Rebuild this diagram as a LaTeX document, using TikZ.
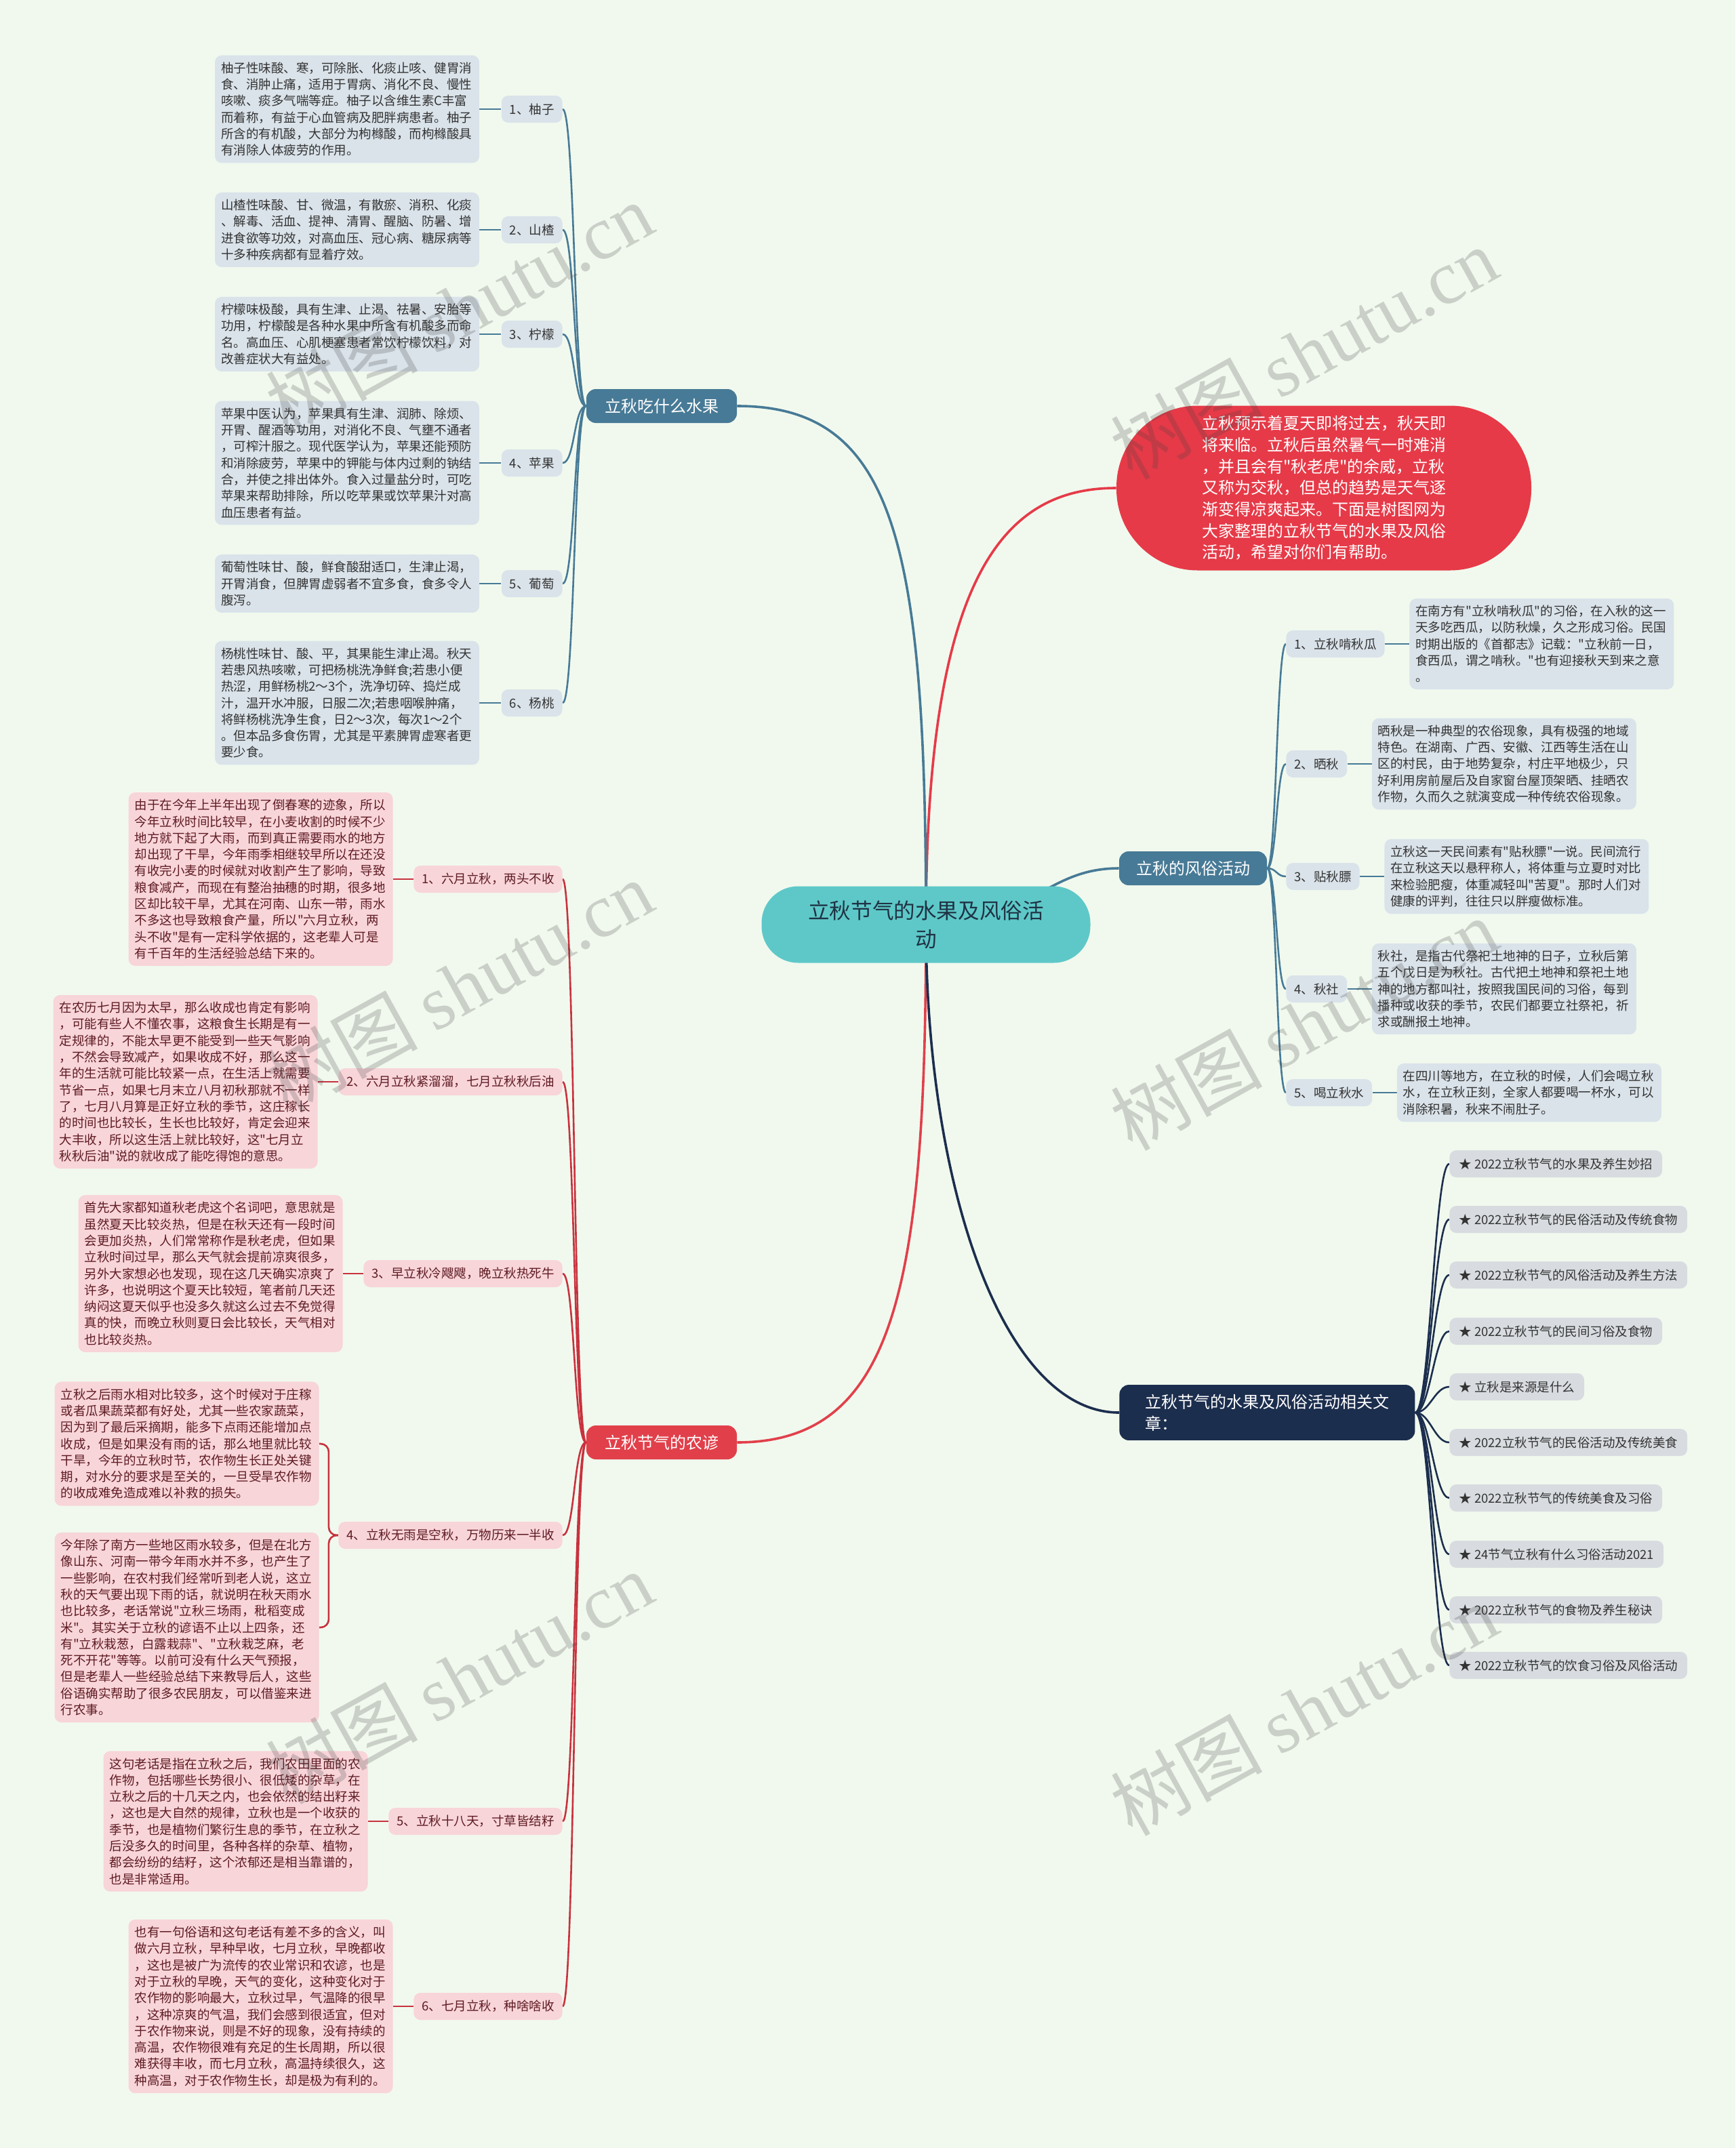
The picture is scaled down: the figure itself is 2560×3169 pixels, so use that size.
\documentclass[tikz,border=0pt]{standalone}
\usepackage{fontspec}
\setmainfont{Noto Sans CJK SC}[Ligatures=TeXOff]
\newfontfamily\wmserif{Liberation Serif}
\usetikzlibrary{calc}
\definecolor{bgc}{HTML}{F1F9EE}
\definecolor{bluebr}{HTML}{477A96}
\definecolor{bluelt}{HTML}{DAE3EA}
\definecolor{redbr}{HTML}{E1404B}
\definecolor{introred}{HTML}{E63A48}
\definecolor{pinklt}{HTML}{F8D5D9}
\definecolor{pinkln}{HTML}{C8323E}
\definecolor{pinktxt}{HTML}{5E1B23}
\definecolor{navy}{HTML}{1C2E4E}
\definecolor{artlt}{HTML}{D8DCE0}
\definecolor{rootc}{HTML}{5EC8C8}
\definecolor{txtg}{HTML}{333333}
\definecolor{roottxt}{HTML}{1F3344}
\newcommand{\smallf}{\fontsize{9.25pt}{12.15pt}\selectfont}
\newcommand{\bigf}{\fontsize{12pt}{15.85pt}\selectfont}
\newcommand{\rootf}{\fontsize{15.8pt}{21pt}\selectfont}
\newcommand{\wmf}{\fontsize{56pt}{60pt}\selectfont}
\pgfdeclarelayer{back}\pgfdeclarelayer{lines}\pgfdeclarelayer{front}
\pgfsetlayers{back,lines,main,front}
\tikzset{
 txtbox/.style={rounded corners=5pt, inner xsep=4.5pt, inner ysep=5pt, text width=186pt, align=left, font=\smallf},
 lab/.style={rounded corners=5pt, inner xsep=6pt, inner ysep=0pt, minimum height=20pt, font=\smallf},
 bbox/.style={txtbox, fill=bluelt, text=txtg},
 blab/.style={lab, fill=bluelt, text=txtg},
 pbox/.style={txtbox, fill=pinklt, text=pinktxt},
 plab/.style={lab, fill=pinklt, text=pinktxt},
 alab/.style={lab, fill=artlt, text=txtg, inner xsep=7pt},
 branch/.style={rounded corners=7pt, font=\bigf, text=white, minimum height=25pt, inner xsep=12pt},
 bline/.style={draw=bluebr, line width=1.3pt},
 pline/.style={draw=pinkln, line width=1.3pt},
 nline/.style={draw=navy, line width=1.3pt},
 mainline/.style={line width=1.8pt},
 wm/.style={text=black!75, opacity=0.22, rotate=29, font=\wmf}
}
\begin{document}
\begin{tikzpicture}[x=0.5pt, y=-0.5pt]
\begin{pgfonlayer}{back}
\fill[bgc] (0,0) rectangle (2560,3169);
\end{pgfonlayer}
\useasboundingbox (0,0) rectangle (2560,3169);

% root and intro
\node[fill=rootc, text=roottxt, rounded corners=27pt, minimum width=242.5pt, minimum height=56.5pt, align=center, font=\rootf] (root) at (1366,1364) {立秋节气的水果及风俗活\\动};
\node[fill=introred, text=white, rounded corners=60pt, minimum width=306pt, minimum height=121.5pt, align=left, font=\bigf] (intro) at (1953,720) {立秋预示着夏天即将过去，秋天即\\将来临。立秋后虽然暑气一时难消\\，并且会有"秋老虎"的余威，立秋\\又称为交秋，但总的趋势是天气逐\\渐变得凉爽起来。下面是树图网为\\大家整理的立秋节气的水果及风俗\\活动，希望对你们有帮助。};

% branches
\node[branch, fill=bluebr, minimum width=111pt] (fruitB) at (976,599) {立秋吃什么水果};
\node[branch, fill=redbr, minimum width=111pt] (farmB) at (976,2128) {立秋节气的农谚};
\node[branch, fill=bluebr, minimum width=109pt] (custB) at (1760,1281) {立秋的风俗活动};
\node[branch, fill=navy, anchor=west, align=left, inner xsep=19pt, inner ysep=7pt] (artB) at (1651,2084) {立秋节气的水果及风俗活动相关文\\章：};

% fruits
\node[blab, anchor=east] (f1) at (830,161) {1、柚子};
\node[blab, anchor=east] (f2) at (830,339) {2、山楂};
\node[blab, anchor=east] (f3) at (830,493) {3、柠檬};
\node[blab, anchor=east] (f4) at (830,683) {4、苹果};
\node[blab, anchor=east] (f5) at (830,861) {5、葡萄};
\node[blab, anchor=east] (f6) at (830,1037) {6、杨桃};
\node[bbox, anchor=east] (ft1) at ([xshift=-16pt]f1.west) {柚子性味酸、寒，可除胀、化痰止咳、健胃消\\食、消肿止痛，适用于胃病、消化不良、慢性\\咳嗽、痰多气喘等症。柚子以含维生素C丰富\\而着称，有益于心血管病及肥胖病患者。柚子\\所含的有机酸，大部分为枸橼酸，而枸橼酸具\\有消除人体疲劳的作用。};
\node[bbox, anchor=east] (ft2) at ([xshift=-16pt]f2.west) {山楂性味酸、甘、微温，有散瘀、消积、化痰\\、解毒、活血、提神、清胃、醒脑、防暑、增\\进食欲等功效，对高血压、冠心病、糖尿病等\\十多种疾病都有显着疗效。};
\node[bbox, anchor=east] (ft3) at ([xshift=-16pt]f3.west) {柠檬味极酸，具有生津、止渴、祛暑、安胎等\\功用，柠檬酸是各种水果中所含有机酸多而命\\名。高血压、心肌梗塞患者常饮柠檬饮料，对\\改善症状大有益处。};
\node[bbox, anchor=east] (ft4) at ([xshift=-16pt]f4.west) {苹果中医认为，苹果具有生津、润肺、除烦、\\开胃、醒酒等功用，对消化不良、气壅不通者\\，可榨汁服之。现代医学认为，苹果还能预防\\和消除疲劳，苹果中的钾能与体内过剩的钠结\\合，并使之排出体外。食入过量盐分时，可吃\\苹果来帮助排除，所以吃苹果或饮苹果汁对高\\血压患者有益。};
\node[bbox, anchor=east] (ft5) at ([xshift=-16pt]f5.west) {葡萄性味甘、酸，鲜食酸甜适口，生津止渴，\\开胃消食，但脾胃虚弱者不宜多食，食多令人\\腹泻。};
\node[bbox, anchor=east] (ft6) at ([xshift=-16pt]f6.west) {杨桃性味甘、酸、平，其果能生津止渴。秋天\\若患风热咳嗽，可把杨桃洗净鲜食;若患小便\\热涩，用鲜杨桃2～3个，洗净切碎、捣烂成\\汁，温开水冲服，日服二次;若患咽喉肿痛，\\将鲜杨桃洗净生食，日2～3次，每次1～2个\\。但本品多食伤胃，尤其是平素脾胃虚寒者更\\要少食。};

% farm proverbs
\node[plab, anchor=east] (p1) at (830,1297) {1、六月立秋，两头不收};
\node[plab, anchor=east] (p2) at (830,1596) {2、六月立秋紧溜溜，七月立秋秋后油};
\node[plab, anchor=east] (p3) at (830,1879) {3、早立秋冷飕飕，晚立秋热死牛};
\node[plab, anchor=east] (p4) at (830,2265) {4、立秋无雨是空秋，万物历来一半收};
\node[plab, anchor=east] (p5) at (830,2687) {5、立秋十八天，寸草皆结籽};
\node[plab, anchor=east] (p6) at (830,2960) {6、七月立秋，种啥啥收};
\node[pbox, anchor=east] (pt1) at ([xshift=-15pt]p1.west) {由于在今年上半年出现了倒春寒的迹象，所以\\今年立秋时间比较早，在小麦收割的时候不少\\地方就下起了大雨，而到真正需要雨水的地方\\却出现了干旱，今年雨季相继较早所以在还没\\有收完小麦的时候就对收割产生了影响，导致\\粮食减产，而现在有整治抽穗的时期，很多地\\区却比较干旱，尤其在河南、山东一带，雨水\\不多这也导致粮食产量，所以"六月立秋，两\\头不收"是有一定科学依据的，这老辈人可是\\有千百年的生活经验总结下来的。};
\node[pbox, anchor=east] (pt2) at ([xshift=-15pt]p2.west) {在农历七月因为太早，那么收成也肯定有影响\\，可能有些人不懂农事，这粮食生长期是有一\\定规律的，不能太早更不能受到一些天气影响\\，不然会导致减产，如果收成不好，那么这一\\年的生活就可能比较紧一点，在生活上就需要\\节省一点，如果七月末立八月初秋那就不一样\\了，七月八月算是正好立秋的季节，这庄稼长\\的时间也比较长，生长也比较好，肯定会迎来\\大丰收，所以这生活上就比较好，这"七月立\\秋秋后油"说的就收成了能吃得饱的意思。};
\node[pbox, anchor=east] (pt3) at ([xshift=-15pt]p3.west) {首先大家都知道秋老虎这个名词吧，意思就是\\虽然夏天比较炎热，但是在秋天还有一段时间\\会更加炎热，人们常常称作是秋老虎，但如果\\立秋时间过早，那么天气就会提前凉爽很多，\\另外大家想必也发现，现在这几天确实凉爽了\\许多，也说明这个夏天比较短，笔者前几天还\\纳闷这夏天似乎也没多久就这么过去不免觉得\\真的快，而晚立秋则夏日会比较长，天气相对\\也比较炎热。};
\node[pbox, anchor=east] (pt4a) at ([xshift=-14pt, yshift=67.5pt]p4.west) {立秋之后雨水相对比较多，这个时候对于庄稼\\或者瓜果蔬菜都有好处，尤其一些农家蔬菜，\\因为到了最后采摘期，能多下点雨还能增加点\\收成，但是如果没有雨的话，那么地里就比较\\干旱，今年的立秋时节，农作物生长正处关键\\期，对水分的要求是至关的，一旦受旱农作物\\的收成难免造成难以补救的损失。};
\node[pbox, anchor=east] (pt4b) at ([xshift=-14pt, yshift=-68pt]p4.west) {今年除了南方一些地区雨水较多，但是在北方\\像山东、河南一带今年雨水并不多，也产生了\\一些影响，在农村我们经常听到老人说，这立\\秋的天气要出现下雨的话，就说明在秋天雨水\\也比较多，老话常说"立秋三场雨，秕稻变成\\米"。其实关于立秋的谚语不止以上四条，还\\有"立秋栽葱，白露栽蒜"、"立秋栽芝麻，老\\死不开花"等等。以前可没有什么天气预报，\\但是老辈人一些经验总结下来教导后人，这些\\俗语确实帮助了很多农民朋友，可以借鉴来进\\行农事。};
\node[pbox, anchor=east] (pt5) at ([xshift=-15pt]p5.west) {这句老话是指在立秋之后，我们农田里面的农\\作物，包括哪些长势很小、很低矮的杂草，在\\立秋之后的十几天之内，也会依然的结出籽来\\，这也是大自然的规律，立秋也是一个收获的\\季节，也是植物们繁衍生息的季节，在立秋之\\后没多久的时间里，各种各样的杂草、植物，\\都会纷纷的结籽，这个浓郁还是相当靠谱的，\\也是非常适用。};
\node[pbox, anchor=east] (pt6) at ([xshift=-15pt]p6.west) {也有一句俗语和这句老话有差不多的含义，叫\\做六月立秋，早种早收，七月立秋，早晚都收\\，这也是被广为流传的农业常识和农谚，也是\\对于立秋的早晚，天气的变化，这种变化对于\\农作物的影响最大，立秋过早，气温降的很早\\，这种凉爽的气温，我们会感到很适宜，但对\\于农作物来说，则是不好的现象，没有持续的\\高温，农作物很难有充足的生长周期，所以很\\难获得丰收，而七月立秋，高温持续很久，这\\种高温，对于农作物生长，却是极为有利的。};

% customs
\node[blab, anchor=west] (r1) at (1897,950) {1、立秋啃秋瓜};
\node[blab, anchor=west] (r2) at (1897,1127) {2、晒秋};
\node[blab, anchor=west] (r3) at (1897,1293) {3、贴秋膘};
\node[blab, anchor=west] (r4) at (1897,1459) {4、秋社};
\node[blab, anchor=west] (r5) at (1897,1612) {5、喝立秋水};
\node[bbox, anchor=west] (rt1) at ([xshift=18pt]r1.east) {在南方有"立秋啃秋瓜"的习俗，在入秋的这一\\天多吃西瓜，以防秋燥，久之形成习俗。民国\\时期出版的《首都志》记载："立秋前一日，\\食西瓜，谓之啃秋。"也有迎接秋天到来之意\\。};
\node[bbox, anchor=west] (rt2) at ([xshift=18pt]r2.east) {晒秋是一种典型的农俗现象，具有极强的地域\\特色。在湖南、广西、安徽、江西等生活在山\\区的村民，由于地势复杂，村庄平地极少，只\\好利用房前屋后及自家窗台屋顶架晒、挂晒农\\作物，久而久之就演变成一种传统农俗现象。};
\node[bbox, anchor=west] (rt3) at ([xshift=18pt]r3.east) {立秋这一天民间素有"贴秋膘"一说。民间流行\\在立秋这天以悬秤称人，将体重与立夏时对比\\来检验肥瘦，体重减轻叫"苦夏"。那时人们对\\健康的评判，往往只以胖瘦做标准。};
\node[bbox, anchor=west] (rt4) at ([xshift=18pt]r4.east) {秋社，是指古代祭祀土地神的日子，立秋后第\\五个戊日是为秋社。古代把土地神和祭祀土地\\神的地方都叫社，按照我国民间的习俗，每到\\播种或收获的季节，农民们都要立社祭祀，祈\\求或酬报土地神。};
\node[bbox, anchor=west] (rt5) at ([xshift=18pt]r5.east) {在四川等地方，在立秋的时候，人们会喝立秋\\水，在立秋正刻，全家人都要喝一杯水，可以\\消除积暑，秋来不闹肚子。};

% articles
\node[alab, anchor=west] (a1) at (2138,1717) {★ 2022立秋节气的水果及养生妙招};
\node[alab, anchor=west] (a2) at (2138,1799) {★ 2022立秋节气的民俗活动及传统食物};
\node[alab, anchor=west] (a3) at (2138,1881) {★ 2022立秋节气的风俗活动及养生方法};
\node[alab, anchor=west] (a4) at (2138,1964) {★ 2022立秋节气的民间习俗及食物};
\node[alab, anchor=west] (a5) at (2138,2046) {★ 立秋是来源是什么};
\node[alab, anchor=west] (a6) at (2138,2128) {★ 2022立秋节气的民俗活动及传统美食};
\node[alab, anchor=west] (a7) at (2138,2210) {★ 2022立秋节气的传统美食及习俗};
\node[alab, anchor=west] (a8) at (2138,2293) {★ 24节气立秋有什么习俗活动2021};
\node[alab, anchor=west] (a9) at (2138,2375) {★ 2022立秋节气的食物及养生秘诀};
\node[alab, anchor=west] (a10) at (2138,2457) {★ 2022立秋节气的饮食习俗及风俗活动};

\begin{pgfonlayer}{lines}
\draw[mainline, introred] (root.center) .. controls (1366,850) and (1480,720) .. (intro.west);
\draw[mainline, bluebr] (root.center) .. controls (1366,800) and (1320,599) .. (fruitB.east);
\draw[mainline, redbr] (root.center) .. controls (1366,1900) and (1320,2128) .. (farmB.east);
\draw[mainline, bluebr] (root.center) .. controls (1520,1364) and (1540,1281) .. (custB.west);
\draw[mainline, navy] (root.center) .. controls (1366,1750) and (1480,2084) .. (artB.west);
\foreach \c in {1,...,6} {
  \draw[bline] (fruitB.west) .. controls +(-18,0) and +(18,0) .. (f\c.east);
  \draw[bline] (f\c.west) -- (ft\c.east);
  \draw[pline] (farmB.west) .. controls +(-18,0) and +(18,0) .. (p\c.east);
}
\foreach \c in {1,2,3,5,6} { \draw[pline] (p\c.west) -- (pt\c.east); }
\draw[pline, rounded corners=6pt] (p4.west) -- ++(-14,0) |- (pt4a.east);
\draw[pline, rounded corners=6pt] (p4.west) -- ++(-14,0) |- (pt4b.east);
\foreach \c in {1,...,5} {
  \draw[bline] (custB.east) .. controls +(14,0) and +(-14,0) .. (r\c.west);
  \draw[bline] (r\c.east) -- (rt\c.west);
}
\foreach \c in {1,...,10} {
  \draw[nline] (artB.east) .. controls +(22,0) and +(-22,0) .. (a\c.west);
}
\end{pgfonlayer}

\begin{pgfonlayer}{front}
\node[wm] (w1) at (677,455) {树图 {\wmserif shutu.cn}};
\node[wm] (w2) at (1923,521) {树图 {\wmserif shutu.cn}};
\node[wm] (w3) at (677,1455) {树图 {\wmserif shutu.cn}};
\node[wm] (w4) at (1923,1511) {树图 {\wmserif shutu.cn}};
\node[wm] (w5) at (677,2475) {树图 {\wmserif shutu.cn}};
\node[wm] (w6) at (1923,2522) {树图 {\wmserif shutu.cn}};
\end{pgfonlayer}
\end{tikzpicture}
\end{document}
